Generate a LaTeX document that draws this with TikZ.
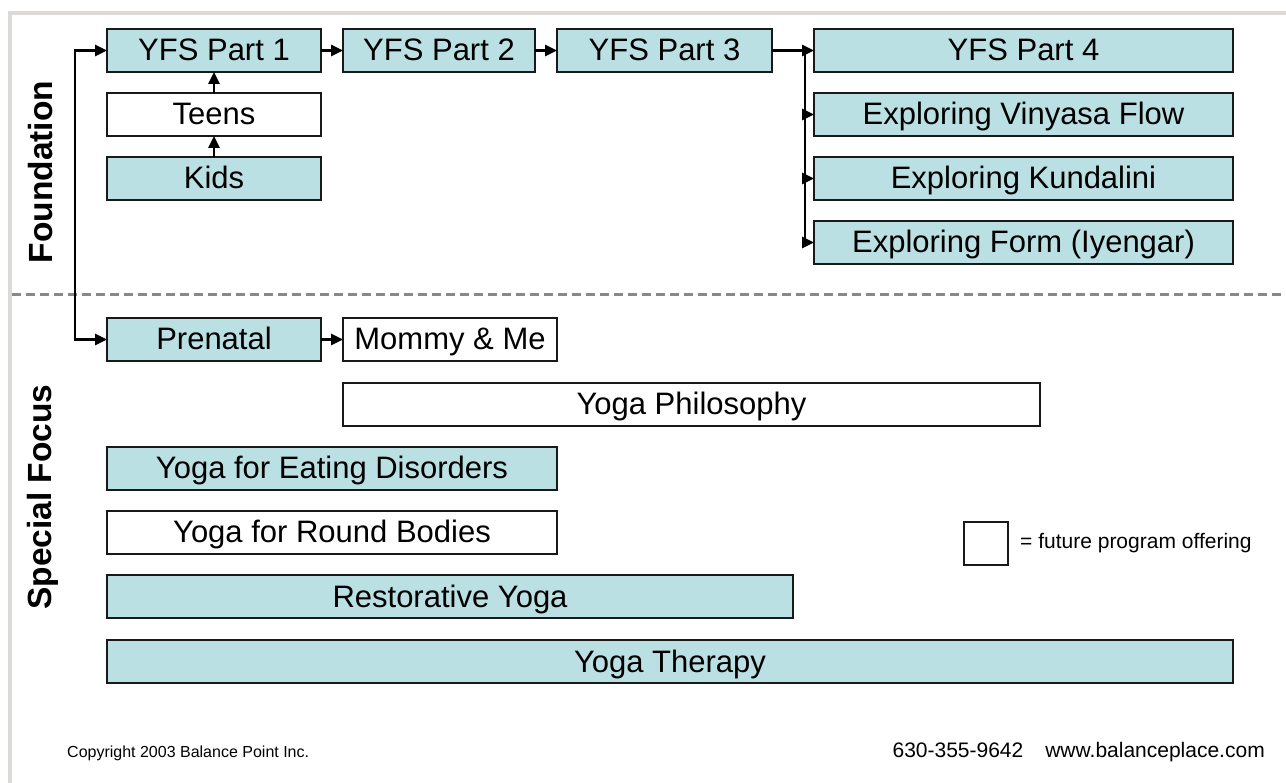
\documentclass[tikz,border=0pt]{standalone}
\usepackage{fontspec}
\setmainfont{Liberation Sans}
\usetikzlibrary{arrows.meta}
\usetikzlibrary{calc}

\definecolor{progfill}{RGB}{186,224,227}
\definecolor{framegray}{RGB}{221,217,214}
\definecolor{splitgray}{RGB}{136,136,136}

\begin{document}
\begin{tikzpicture}[x=1pt,y=-1pt,
    prog/.style={draw=black!90,line width=1.3pt,fill=progfill,anchor=north west,
      inner sep=0pt,outer sep=0pt,minimum height=43pt,text height=25pt,text depth=4pt,
      font=\fontsize{31}{31}\selectfont},
    future/.style={prog,fill=white},
    link/.style={line width=2.5pt,-{Triangle[length=12pt,width=11pt]}},
    side/.style={rotate=90,font=\bfseries\fontsize{33.5}{33.5}\selectfont}]
      \useasboundingbox (0,0) rectangle (1286,783);
      \draw[framegray,line width=4pt] (1286,13) -- (10,13) -- (10,783);
      \draw[splitgray,line width=3pt,dash pattern=on 9pt off 5pt] (12,295) -- (1286,295);

      % foundation
      \node[prog,minimum width=214pt] (yfsone) at (107,29) {YFS Part 1};
      \node[prog,minimum width=192pt] (yfstwo) at (343,29) {YFS Part 2};
      \node[prog,minimum width=215pt] (yfsthree) at (557,29) {YFS Part 3};
      \node[prog,minimum width=419pt] (yfsfour) at (814,29) {YFS Part 4};
      \node[future,minimum width=214pt] (teens) at (107,93) {Teens};
      \node[prog,minimum width=214pt] (kids) at (107,157) {Kids};
      \node[prog,minimum width=419pt] (vinyasa) at (814,93) {Exploring Vinyasa Flow};
      \node[prog,minimum width=419pt] (kundalini) at (814,157) {Exploring Kundalini};
      \node[prog,minimum width=419pt] (iyengar) at (814,221) {Exploring Form (Iyengar)};

      % special focus
      \node[prog,minimum width=214pt] (prenatal) at (107,318) {Prenatal};
      \node[future,minimum width=214pt] (mommy) at (343,318) {Mommy \& Me};
      \node[future,minimum width=697pt] (philosophy) at (343,383) {Yoga Philosophy};
      \node[prog,minimum width=450pt] (eating) at (107,447) {Yoga for Eating Disorders};
      \node[future,minimum width=450pt] (round) at (107,511) {Yoga for Round Bodies};
      \node[prog,minimum width=686pt] (restorative) at (107,575) {Restorative Yoga};
      \node[prog,minimum width=1126pt] (therapy) at (107,640) {Yoga Therapy};

      \node[side] (foundlabel) at (41,172) {Foundation};
      \node[side] (speciallabel) at (43,497) {Special Focus};

      % connectors
      \coordinate (spine) at (75,195);
      \coordinate (fork) at (805,50.5);
      \draw[link] (spine) |- (yfsone.west);
      \draw[link] (spine) |- (prenatal.west);
      \draw[link] (kids) -- (teens);
      \draw[link] (teens) -- (yfsone);
      \draw[link] (yfsone) -- (yfstwo);
      \draw[link] (yfstwo) -- (yfsthree);
      \draw[line width=2.5pt] (yfsthree.east) -- (fork);
      \draw[link] (fork) -- (yfsfour.west);
      \draw[link] (fork) |- (vinyasa.west);
      \draw[link] (fork) |- (kundalini.west);
      \draw[link] (fork) |- (iyengar.west);
      \draw[link] (prenatal) -- (mommy);

      % legend and footer
      \node[future,minimum width=44pt,minimum height=43pt] (legendbox) at (964,522) {};
      \node[anchor=west,inner sep=0pt,font=\fontsize{21}{21}\selectfont] (legendtext)
        at ($(legendbox.east)+(12,0)$) {= future program offering};
      \node[anchor=west,inner sep=0pt,font=\fontsize{16}{16}\selectfont] (copyright)
        at (67,753) {Copyright 2003 Balance Point Inc.};
      \node[anchor=east,inner sep=0pt,font=\fontsize{21}{21}\selectfont] (contact)
        at (1265,752) {630-355-9642\hspace{22pt}www.balanceplace.com};
\end{tikzpicture}
\end{document}
